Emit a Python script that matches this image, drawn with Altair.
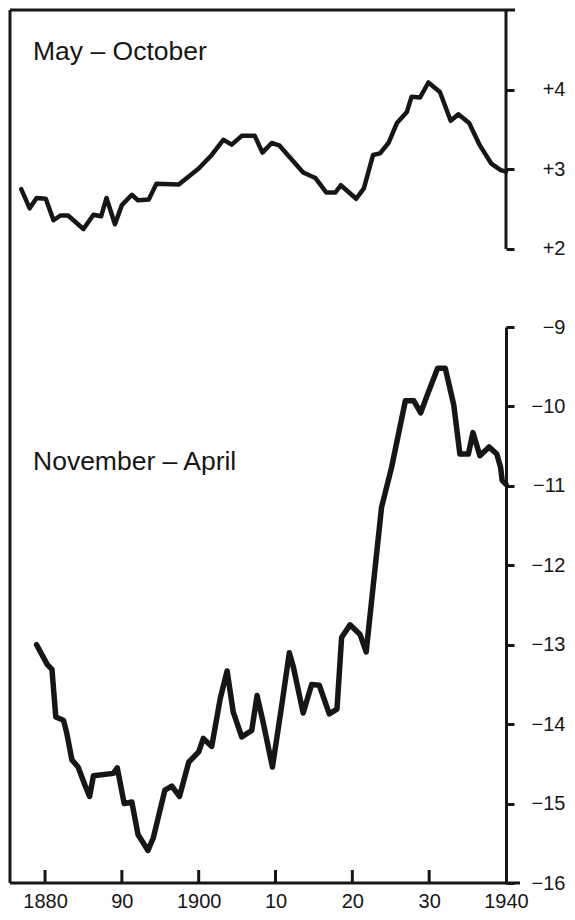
import altair as alt
import pandas as pd

# ---- data ----
top_years = [1876.9, 1878.0, 1878.9, 1880.1, 1881.1, 1882.0, 1883.0, 1885.0, 1886.3, 1887.3,
             1888.0, 1889.1, 1890.0, 1891.3, 1892.1, 1893.5, 1894.5, 1897.4, 1900.0, 1901.7,
             1903.2, 1904.3, 1905.6, 1907.3, 1908.3, 1909.5, 1910.5, 1913.6, 1915.2, 1916.6,
             1917.8, 1918.5, 1920.5, 1921.5, 1922.7, 1923.6, 1924.7, 1925.8, 1927.1, 1927.7,
             1928.8, 1929.9, 1931.4, 1932.8, 1933.8, 1935.2, 1936.6, 1938.1, 1939.3, 1940.0]
top_vals = [2.75, 2.51, 2.64, 2.63, 2.36, 2.42, 2.42, 2.25, 2.43, 2.41,
            2.64, 2.31, 2.55, 2.68, 2.61, 2.62, 2.82, 2.81, 3.01, 3.18,
            3.37, 3.31, 3.42, 3.42, 3.21, 3.33, 3.30, 2.96, 2.89, 2.71,
            2.71, 2.80, 2.63, 2.76, 3.18, 3.20, 3.33, 3.58, 3.72, 3.91,
            3.90, 4.09, 3.97, 3.61, 3.69, 3.58, 3.30, 3.07, 2.99, 2.97]

bottom_years = [1878.9, 1880.3, 1880.9, 1881.4, 1882.4, 1882.8, 1883.5, 1884.3, 1885.2, 1885.8,
                1886.3, 1888.9, 1889.4, 1890.3, 1891.3, 1892.1, 1893.4, 1894.1, 1895.6, 1896.5,
                1897.5, 1898.7, 1900.0, 1900.6, 1901.7, 1902.8, 1903.7, 1904.5, 1905.6, 1906.9,
                1907.6, 1908.4, 1909.6, 1910.8, 1911.8, 1912.3, 1913.6, 1914.7, 1915.7, 1917.0,
                1918.0, 1918.6, 1919.7, 1921.0, 1921.8, 1923.8, 1925.1, 1926.9, 1928.0, 1928.9,
                1929.7, 1931.1, 1932.1, 1933.2, 1934.0, 1935.1, 1935.7, 1936.6, 1937.8, 1938.8,
                1939.3, 1939.5, 1940.0]
bottom_vals = [-13.00, -13.25, -13.31, -13.91, -13.95, -14.10, -14.45, -14.54, -14.77, -14.91,
               -14.65, -14.62, -14.55, -15.00, -14.98, -15.39, -15.59, -15.43, -14.83, -14.78,
               -14.91, -14.48, -14.35, -14.18, -14.28, -13.68, -13.33, -13.85, -14.16, -14.08,
               -13.64, -13.98, -14.54, -13.77, -13.10, -13.27, -13.86, -13.50, -13.51, -13.87,
               -13.81, -12.91, -12.75, -12.87, -13.09, -11.27, -10.77, -9.93, -9.93, -10.08,
               -9.87, -9.52, -9.52, -9.98, -10.60, -10.60, -10.33, -10.62, -10.51, -10.60,
               -10.77, -10.93, -10.98]

series_names = ["May – October", "November – April"]
x_tick_years = [1880, 1890, 1900, 1910, 1920, 1930, 1940]
x_tick_labels = ["1880", "90", "1900", "10", "20", "30", "1940"]
top_ticks = [2, 3, 4]
bottom_ticks = [-16, -15, -14, -13, -12, -11, -10, -9]
top_axis_span = [2, 5]

# ---- layout / style ----
W = 496
HA = 317
HB = 556
FONT = "Liberation Sans"
INK = "#161616"
LINE_W = 3
LABEL_PAD = 51

x_scale = alt.Scale(domain=[1875.44, 1940], nice=False, zero=False)
ya_scale = alt.Scale(domain=[1.02, 5.0], nice=False, zero=False)
yb_scale = alt.Scale(domain=[-16, -9], nice=False, zero=False)

top_df = pd.DataFrame({"year": top_years, "value": top_vals})
bot_df = pd.DataFrame({"year": bottom_years, "value": bottom_vals})
one = pd.DataFrame({"k": [0]})
span_df = pd.DataFrame({"lo": [top_axis_span[0]], "hi": [top_axis_span[1]]})
tick_df = pd.DataFrame({"year": x_tick_years[:-1]})

label_expr = ""
for y, l in zip(x_tick_years, x_tick_labels):
    label_expr += f"datum.value == {y} ? '{l}' : "
label_expr += "''"

# ---- top panel ----
top_line = alt.Chart(top_df).mark_line(
    color=INK, strokeWidth=4.5, strokeJoin="round", strokeCap="round"
).encode(
    x=alt.X("year:Q", scale=x_scale, axis=None),
    y=alt.Y("value:Q", scale=ya_scale, axis=alt.Axis(
        orient="right", values=top_ticks, domain=False, ticks=True, tickSize=8,
        tickWidth=LINE_W, tickColor=INK, grid=False, title=None,
        labelExpr="'+' + datum.value", labelAlign="right", labelBaseline="middle",
        labelPadding=LABEL_PAD, labelFontSize=20, labelFont=FONT, labelColor=INK)),
)
top_left = alt.Chart(one).mark_rule(color=INK, strokeWidth=LINE_W).encode(
    x=alt.value(0), y=alt.value(0), y2=alt.value(HA))
top_border = alt.Chart(one).mark_rule(color=INK, strokeWidth=LINE_W).encode(
    x=alt.value(0), x2=alt.value(W + 9), y=alt.value(0))
top_right = alt.Chart(span_df).mark_rule(color=INK, strokeWidth=LINE_W).encode(
    x=alt.value(W), y=alt.Y("lo:Q", scale=ya_scale), y2="hi:Q")
top_text = alt.Chart(one).mark_text(
    align="left", baseline="alphabetic", fontSize=26.5, font=FONT, color=INK
).encode(x=alt.value(23), y=alt.value(50), text=alt.value(series_names[0]))

panel_a = alt.layer(top_line, top_left, top_border, top_right, top_text).properties(
    width=W, height=HA)

# ---- bottom panel ----
bot_line = alt.Chart(bot_df).mark_line(
    color=INK, strokeWidth=5.5, strokeJoin="round", strokeCap="round"
).encode(
    x=alt.X("year:Q", scale=x_scale, axis=alt.Axis(
        orient="bottom", values=x_tick_years, domain=False, ticks=False, tickSize=0,
        grid=False, title=None, labelExpr=label_expr, labelBaseline="alphabetic",
        labelPadding=24, labelFontSize=20, labelFont=FONT, labelColor=INK,
        labelFlush=False, labelOverlap=False)),
    y=alt.Y("value:Q", scale=yb_scale, axis=alt.Axis(
        orient="right", values=bottom_ticks, domain=True, domainWidth=LINE_W,
        domainColor=INK, ticks=True, tickSize=8, tickWidth=LINE_W, tickColor=INK,
        grid=False, title=None,
        labelExpr="'\u2212' + abs(datum.value)", labelAlign="right", labelBaseline="middle",
        labelPadding=LABEL_PAD, labelFontSize=20, labelFont=FONT, labelColor=INK)),
)
bot_left = alt.Chart(one).mark_rule(color=INK, strokeWidth=LINE_W).encode(
    x=alt.value(0), y=alt.value(0), y2=alt.value(HB))
bot_axis = alt.Chart(one).mark_rule(color=INK, strokeWidth=LINE_W).encode(
    x=alt.value(0), x2=alt.value(W + 14), y=alt.value(HB))
bot_ticks = alt.Chart(tick_df).mark_rule(color=INK, strokeWidth=LINE_W).encode(
    x=alt.X("year:Q", scale=x_scale), y=alt.value(HB - 13), y2=alt.value(HB))
bot_text = alt.Chart(one).mark_text(
    align="left", baseline="alphabetic", fontSize=26.5, font=FONT, color=INK
).encode(x=alt.value(23), y=alt.value(143), text=alt.value(series_names[1]))

panel_b = alt.layer(bot_line, bot_left, bot_axis, bot_ticks, bot_text).properties(
    width=W, height=HB)

chart = alt.vconcat(panel_a, panel_b, spacing=0, bounds="flush").resolve_scale(
    x="independent", y="independent"
).properties(
    padding={"left": 0, "top": 0, "right": 0, "bottom": 0},
    background="white",
).configure_view(stroke=None)

chart.save("out.html", embed_options={"renderer": "svg", "actions": False})
